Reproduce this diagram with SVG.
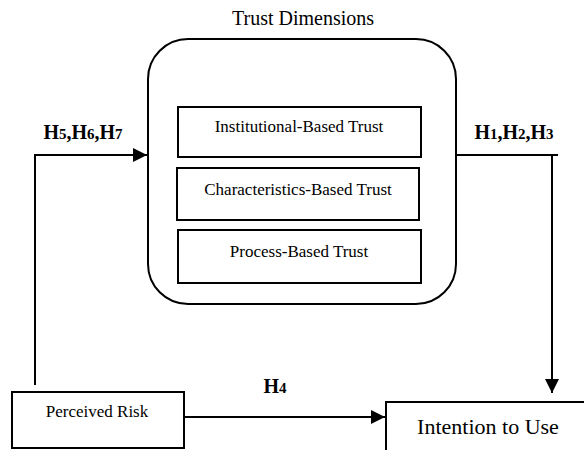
<svg xmlns="http://www.w3.org/2000/svg" width="584" height="450" viewBox="0 0 584 450">
<style>
.t{font-family:"Liberation Serif","Times New Roman",serif;fill:#000;text-anchor:middle}
.b{font-weight:bold}
.box{fill:#fff;stroke:#000;stroke-width:2}
.ln{fill:none;stroke:#000;stroke-width:2}
</style>
<defs>
<marker id="ah" viewBox="0 0 14 14" refX="14" refY="7" markerWidth="14" markerHeight="14" markerUnits="userSpaceOnUse" orient="auto">
<path d="M0,0 L14,7 L0,14 z" fill="#000"/>
</marker>
</defs>
<rect width="584" height="450" fill="#fff"/>
<g id="connectors">
<path class="ln" d="M35,385 V155 H147" marker-end="url(#ah)"/>
<path class="ln" d="M456,155 H558"/>
<path class="ln" d="M552,155 V393" marker-end="url(#ah)"/>
<path class="ln" d="M184,417 H385" marker-end="url(#ah)"/>
<text class="t b" x="83" y="139" font-size="20">H<tspan font-size="15">5</tspan>,H<tspan font-size="15">6</tspan>,H<tspan font-size="15">7</tspan></text>
<text class="t b" x="514" y="139" font-size="20">H<tspan font-size="15">1</tspan>,H<tspan font-size="15">2</tspan>,H<tspan font-size="15">3</tspan></text>
<text class="t b" x="275" y="393" font-size="20">H<tspan font-size="15">4</tspan></text>
</g>
<g id="trust-dimensions">
<text class="t" x="303" y="25" font-size="20">Trust Dimensions</text>
<rect class="box" x="148" y="39" width="308" height="265" rx="40" ry="40"/>
</g>
<g id="institutional">
<rect class="box" x="178" y="107" width="243" height="50"/>
<text class="t" x="299" y="132" font-size="17">Institutional-Based Trust</text>
</g>
<g id="characteristics">
<rect class="box" x="177" y="168" width="242" height="52"/>
<text class="t" x="298" y="195" font-size="17">Characteristics-Based Trust</text>
</g>
<g id="process">
<rect class="box" x="178" y="230" width="243" height="53"/>
<text class="t" x="299" y="257" font-size="17">Process-Based Trust</text>
</g>
<g id="perceived-risk">
<rect class="box" x="12" y="392" width="172" height="56"/>
<text class="t" x="97" y="417" font-size="17">Perceived Risk</text>
</g>
<g id="intention">
<rect class="box" x="386" y="402" width="220" height="70"/>
<text class="t" x="488" y="434" font-size="22">Intention to Use</text>
</g>
</svg>
